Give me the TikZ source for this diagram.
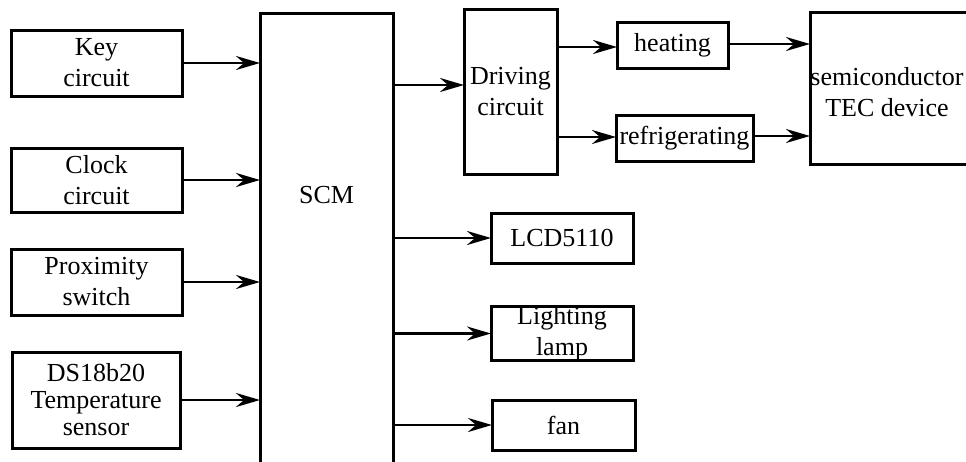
\documentclass[tikz,border=0pt]{standalone}
\usepackage{fontspec}
\setmainfont{Liberation Serif}
\usepackage{tikz}
\usetikzlibrary{arrows.meta,positioning,calc}
\tikzset{box/.style={draw,line width=3pt,align=center,inner sep=0pt,outer sep=0pt,font=\fontsize{26}{31}\selectfont},
  lbl/.style={align=center,inner sep=0pt,font=\fontsize{26}{31}\selectfont},
  arr/.style={-{Stealth[length=24pt,width=14pt,inset=8pt]},line width=2.8pt}}

\begin{document}
\begin{tikzpicture}[x=1pt,y=-1pt]
\useasboundingbox (0,0) rectangle (966,461);
\clip (0,0) rectangle (966,461);
% inputs
\node[box,minimum width=171,minimum height=66] (key) at (96.5,63){Key\\circuit};
\node[box,minimum width=171,minimum height=64] (clock) at (96.5,180){Clock\\circuit};
\node[box,minimum width=171,minimum height=66] (prox) at (96.5,282){Proximity\\switch};
\node[box,minimum width=168,minimum height=96,font=\fontsize{26}{27}\selectfont] (ds) at (96,400){DS18b20\\Temperature\\sensor};
% controller
\node[box,minimum width=133,minimum height=467] (scm) at (326.5,246.5){};
\node[lbl] (scmlbl) at (326.5,195){SCM};
% outputs
\node[box,minimum width=93,minimum height=165] (drv) at (510.5,91.5){Driving\\circuit};
\node[box,minimum width=111,minimum height=46] (heat) at (672.5,45){heating};
\node[box,minimum width=137,minimum height=46] (refr) at (684.5,138){refrigerating};
\node[box,minimum width=168,minimum height=152] (tec) at (894,88){};
\node[lbl] (teclbl) at (887,92){semiconductor\\TEC device};
\node[box,minimum width=142,minimum height=50] (lcd) at (562,238){LCD5110};
\node[box,minimum width=142,minimum height=51] (lamp) at (562,333.5){Lighting\\lamp};
\node[box,minimum width=143,minimum height=50] (fan) at (563.5,425){fan};
% connectors
\foreach \n in {key,clock,prox,ds} \draw[arr] (\n) -- (\n -| scm.west);
\draw[arr] (scm.east |- 0,85) -- (drv.west |- 0,85);
\draw[arr] (drv.east |- 0,47) -- (heat.west |- 0,47);
\draw[arr] (drv.east |- 0,137) -- (refr.west |- 0,137);
\draw[arr] (heat.east |- 0,44) -- (tec.west |- 0,44);
\draw[arr] (refr.east |- 0,136) -- (tec.west |- 0,136);
\foreach \n in {lcd,lamp,fan} \draw[arr] (scm.east |- \n) -- (\n);
\end{tikzpicture}
\end{document}
